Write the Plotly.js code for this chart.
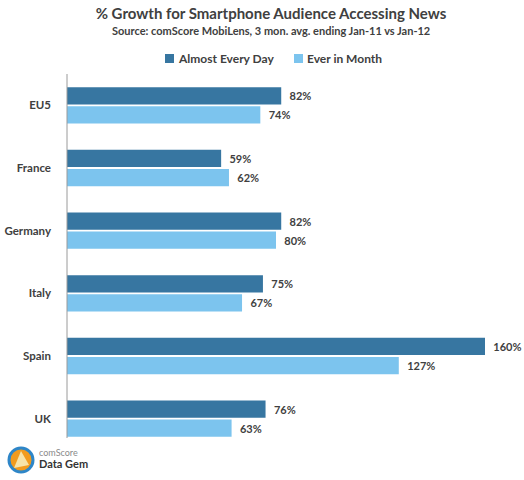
<!DOCTYPE html>
<html><head><meta charset="utf-8">
<script src="https://cdn.plot.ly/plotly-3.0.1.min.js"></script>
<style>html,body{margin:0;padding:0;background:#fff}#chart{width:524px;height:480px}</style>
</head><body><div id="chart"></div>
<script>
var categories = ['EU5', 'France', 'Germany', 'Italy', 'Spain', 'UK'];
var almostEveryDay = [82, 59, 82, 75, 160, 76];
var everInMonth = [74, 62, 80, 67, 127, 63];
var seriesNames = ['Almost Every Day', 'Ever in Month'];
var seriesColors = ['#3776A1', '#7CC4EE'];
var titleText = '% Growth for Smartphone Audience Accessing News';
var subtitleText = 'Source: comScore MobiLens, 3 mon. avg. ending Jan-11 vs Jan-12';

var FONT = 'Lato, "Open Sans", sans-serif';
var TXT = '#404040';
function lab(v){ return v.map(function(x){ return '  ' + x + '%'; }); }

var series = [almostEveryDay, everInMonth];
var traces = series.map(function(vals, i){
  return {type:'bar', orientation:'h', name:seriesNames[i], y:categories, x:vals,
   marker:{color:seriesColors[i]}, text:lab(vals), textposition:'outside', cliponaxis:false,
   textfont:{family:FONT, size:11, color:TXT, weight:'bold'}, hoverinfo:'none'};
});

var W = 524, H = 480, L = 67, R = 20, T = 74, B = 30;
var pw = W - L - R, ph = H - T - B;
function px(x){ return (x - L) / pw; }
function py(y){ return (H - B - y) / ph; }
var cx = px(271);

var shapes = [
  {type:'line', xref:'paper', yref:'paper', x0:0, x1:0, y0:1, y1:py(438), line:{color:'#9a9a9a', width:1}},
  {type:'circle', xref:'paper', yref:'paper', x0:px(9), x1:px(33), y0:py(472), y1:py(448), fillcolor:'#F29B1E', line:{color:'#2E86C8', width:3}},
  {type:'path', xref:'paper', yref:'paper',
   path:'M '+px(14)+' '+py(468)+' L '+px(21)+' '+py(451)+' L '+px(29)+' '+py(465)+' Z',
   fillcolor:'#F7E3A8', line:{width:0}}
];
var annotations = [
  {text:subtitleText, xref:'paper', yref:'paper', x:cx, y:py(30), xanchor:'center', yanchor:'middle',
   showarrow:false, font:{family:FONT, size:11, color:TXT, weight:'bold'}},
  {text:'comScore', xref:'paper', yref:'paper', x:px(37), y:py(452), xanchor:'left', yanchor:'middle',
   showarrow:false, font:{family:FONT, size:9, color:'#8a8a8a'}},
  {text:'Data Gem', xref:'paper', yref:'paper', x:px(37), y:py(464), xanchor:'left', yanchor:'middle',
   showarrow:false, font:{family:FONT, size:11, color:'#333', weight:'bold'}}
];
// custom legend
var legX = [165, 294];
seriesNames.forEach(function(n, i){
  shapes.push({type:'rect', xref:'paper', yref:'paper', x0:px(legX[i]), x1:px(legX[i]+9), y0:py(63), y1:py(54),
    fillcolor:seriesColors[i], line:{width:0}});
  annotations.push({text:n, xref:'paper', yref:'paper', x:px(legX[i]+11), y:py(58.5), xanchor:'left', yanchor:'middle',
    showarrow:false, font:{family:FONT, size:12, color:TXT, weight:'bold'}});
});

var layout = {
  width: W, height: H,
  margin: {l:L, r:R, t:T, b:B, pad:0},
  paper_bgcolor:'#fff', plot_bgcolor:'#fff',
  font:{family:FONT, color:TXT},
  barmode:'group', bargap:0.39, bargroupgap:0.1,
  showlegend:false,
  title:{text:titleText, x:271/W, xanchor:'center', y:1-14/H, yanchor:'middle',
         font:{family:FONT, size:15, color:TXT, weight:'bold'}},
  xaxis:{range:[0, pw/(418/160)], showgrid:false, zeroline:false, showline:false, showticklabels:false, ticks:'', fixedrange:true},
  yaxis:{type:'category', autorange:'reversed', showgrid:false, zeroline:false, showline:false, ticks:'',
         ticklabelstandoff:15, tickfont:{family:FONT, size:11.5, color:TXT, weight:'bold'}, fixedrange:true},
  shapes:shapes,
  annotations:annotations
};

Plotly.newPlot('chart', traces, layout, {displayModeBar:false, staticPlot:true});
</script></body></html>
